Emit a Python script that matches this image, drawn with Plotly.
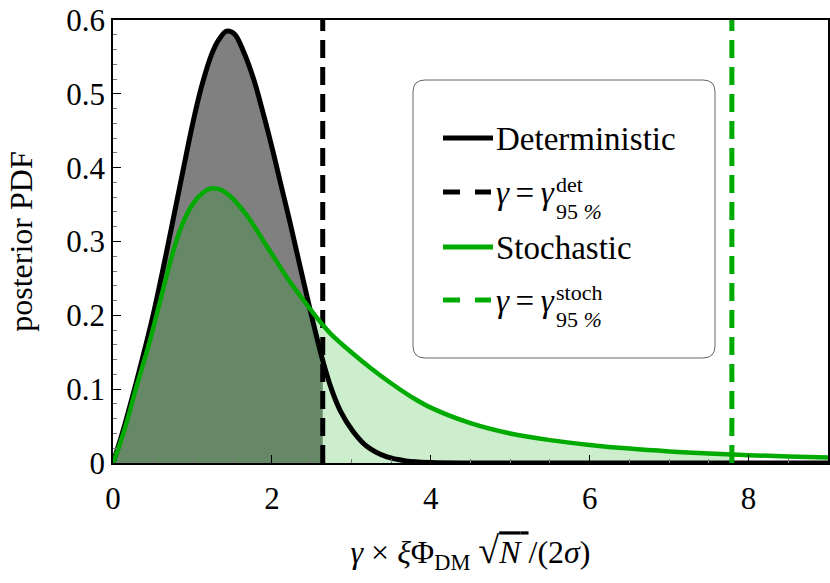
import plotly.graph_objects as go

# ---------------- data ----------------
det_x = [0, 0.13, 0.25, 0.35, 0.5, 0.64, 0.75, 0.87, 1.0, 1.11, 1.24, 1.33, 1.43, 1.53,
         1.64, 1.77, 1.89, 2.0, 2.1, 2.21, 2.3, 2.4, 2.5, 2.57, 2.64, 2.75, 2.86, 3.02,
         3.19, 3.44, 3.69, 4.0, 4.5, 5.0, 6.0, 7.0, 8.0, 9.0]
det_y = [0, 0.045, 0.092, 0.133, 0.198, 0.268, 0.326, 0.390, 0.458, 0.508, 0.553, 0.573, 0.585, 0.581,
         0.558, 0.520, 0.474, 0.428, 0.383, 0.334, 0.292, 0.245, 0.199, 0.168, 0.139, 0.100, 0.071, 0.043,
         0.023, 0.0085, 0.0028, 0.0006, 0, 0, 0, 0, 0, 0]

sto_x = [0, 0.13, 0.3, 0.45, 0.59, 0.74, 0.86, 1.0, 1.12, 1.24, 1.36, 1.47, 1.68, 1.91, 2.0,
         2.25, 2.5, 2.64, 2.75, 3.0, 3.25, 3.5, 3.75, 4.0, 4.5, 5.0, 5.5, 6.0, 6.5, 7.0, 7.5, 7.79,
         8.0, 8.5, 9.0]
sto_y = [0, 0.040, 0.105, 0.160, 0.218, 0.280, 0.320, 0.350, 0.365, 0.372, 0.370, 0.362, 0.336, 0.298, 0.283,
         0.242, 0.206, 0.187, 0.174, 0.150, 0.128, 0.108, 0.090, 0.075, 0.054, 0.040, 0.031, 0.0245, 0.0195, 0.0157,
         0.0128, 0.0114, 0.0106, 0.0089, 0.0076]

gamma95_det = 2.64
gamma95_sto = 7.79

x_ticks = [0, 2, 4, 6, 8]
y_ticks = [0, 0.1, 0.2, 0.3, 0.4, 0.5, 0.6]
y_ticktext = ["0", "0.1", "0.2", "0.3", "0.4", "0.5", "0.6"]

legend_labels = ["Deterministic", "<i>γ</i>\u2009=\u2009<i>γ</i>", "Stochastic", "<i>γ</i>\u2009=\u2009<i>γ</i>"]
legend_sup = ["det", "stoch"]
legend_sub = "95 <i>%</i>"

# ---------------- figure ----------------
BLACK = "#000000"
GREEN = "#00aa00"
FONT = "Liberation Serif, Times New Roman, Times, serif"

fig = go.Figure()

det_fx = [x for x in det_x if x <= gamma95_det]
det_fy = det_y[:len(det_fx)]
sto_fx = [x for x in sto_x if x <= gamma95_sto]
sto_fy = sto_y[:len(sto_fx)]

fig.add_trace(go.Scatter(x=det_fx, y=det_fy, mode="lines", line=dict(width=0, shape="spline", smoothing=1),
                         fill="tozeroy", fillcolor="#808080", hoverinfo="skip"))
fig.add_trace(go.Scatter(x=sto_fx, y=sto_fy, mode="lines", line=dict(width=0, shape="spline", smoothing=1),
                         fill="tozeroy", fillcolor="rgba(0,170,0,0.2)", hoverinfo="skip"))

fig.add_trace(go.Scatter(x=det_x, y=det_y, mode="lines", name="Deterministic",
                         line=dict(color=BLACK, width=5, shape="spline", smoothing=1)))
fig.add_trace(go.Scatter(x=[gamma95_det, gamma95_det], y=[0, 0.6], mode="lines", name="γ=γ det",
                         line=dict(color=BLACK, width=5, dash="18px,9px")))
fig.add_trace(go.Scatter(x=sto_x, y=sto_y, mode="lines", name="Stochastic",
                         line=dict(color=GREEN, width=4.5, shape="spline", smoothing=1)))
fig.add_trace(go.Scatter(x=[gamma95_sto, gamma95_sto], y=[0, 0.6], mode="lines", name="γ=γ stoch",
                         line=dict(color=GREEN, width=5, dash="18px,9px")))

# pixel -> paper helpers for the legend box
L, R, T, B = 113, 828, 20, 463
def px(p):
    return (p - L) / (R - L)
def py(p):
    return (B - p) / (B - T)

# rounded legend box
x0, x1, y0, y1, r = 413, 715, 80, 358, 12
path = (f"M{px(x0+r)},{py(y0)} L{px(x1-r)},{py(y0)} Q{px(x1)},{py(y0)} {px(x1)},{py(y0+r)} "
        f"L{px(x1)},{py(y1-r)} Q{px(x1)},{py(y1)} {px(x1-r)},{py(y1)} "
        f"L{px(x0+r)},{py(y1)} Q{px(x0)},{py(y1)} {px(x0)},{py(y1-r)} "
        f"L{px(x0)},{py(y0+r)} Q{px(x0)},{py(y0)} {px(x0+r)},{py(y0)} Z")
shapes = [dict(type="path", path=path, xref="paper", yref="paper",
               line=dict(color="#666666", width=1), fillcolor="white", layer="above")]

rows = [138, 192, 247, 300]
row_style = [(BLACK, "solid"), (BLACK, "dash"), (GREEN, "solid"), (GREEN, "dash")]
for yy, (col, sty) in zip(rows, row_style):
    if sty == "solid":
        shapes.append(dict(type="line", xref="paper", yref="paper", x0=px(443), x1=px(493),
                           y0=py(yy), y1=py(yy), line=dict(color=col, width=5), layer="above"))
    else:
        for a, b in [(443, 460), (475, 491)]:
            shapes.append(dict(type="line", xref="paper", yref="paper", x0=px(a), x1=px(b),
                               y0=py(yy), y1=py(yy), line=dict(color=col, width=5), layer="above"))

annotations = []
for yy, lab in zip(rows, legend_labels):
    annotations.append(dict(x=px(494), y=py(yy + 1), xref="paper", yref="paper", text=lab,
                            showarrow=False, xanchor="left", yanchor="middle",
                            font=dict(family=FONT, size=33, color="black")))
for yy, sup in zip([rows[1], rows[3]], legend_sup):
    annotations.append(dict(x=px(555), y=py(yy + 5.5), xref="paper", yref="paper", text=sup,
                            showarrow=False, xanchor="left", yanchor="bottom", borderpad=0,
                            font=dict(family=FONT, size=22, color="black")))
    annotations.append(dict(x=px(555), y=py(yy + 5.5), xref="paper", yref="paper", text=legend_sub,
                            showarrow=False, xanchor="left", yanchor="top", borderpad=0,
                            font=dict(family=FONT, size=22, color="black")))

fig.update_layout(
    width=830, height=583,
    margin=dict(l=L, r=830 - R, t=T, b=583 - B),
    plot_bgcolor="white", paper_bgcolor="white",
    showlegend=False,
    font=dict(family=FONT, size=31, color="black"),
    shapes=shapes, annotations=annotations,
)

fig.update_xaxes(
    range=[0, 9], tickvals=x_ticks, ticks="inside", ticklen=8, tickwidth=1, tickcolor="black",
    minor=dict(dtick=0.5, ticks="inside", ticklen=4, tickcolor="#777777", tickwidth=1),
    showline=True, linecolor="black", linewidth=1.5, mirror=True,
    showgrid=False, zeroline=False, automargin=False, ticklabelstandoff=7,
    tickfont=dict(family=FONT, size=31),
    title=dict(text="<i>γ</i> × <i>ξ</i>Φ<sub>DM</sub> <span style='font-size:38px'>√</span><span style='text-decoration:overline'><i>N</i> </span>/(2<i>σ</i>)",
               font=dict(family=FONT, size=32), standoff=26),
)
fig.update_yaxes(
    range=[0, 0.6], tickvals=y_ticks, ticktext=y_ticktext, ticks="inside", ticklen=8, tickwidth=1,
    tickcolor="black",
    minor=dict(dtick=0.02, ticks="inside", ticklen=4, tickcolor="#777777", tickwidth=1),
    showline=True, linecolor="black", linewidth=1.5, mirror=True,
    showgrid=False, zeroline=False, automargin=False,
    tickfont=dict(family=FONT, size=31),
    title=dict(text="posterior PDF", font=dict(family=FONT, size=32), standoff=24),
)

fig.write_html("out.html", config={"displayModeBar": False},
               post_script="document.body.style.margin='0';")
